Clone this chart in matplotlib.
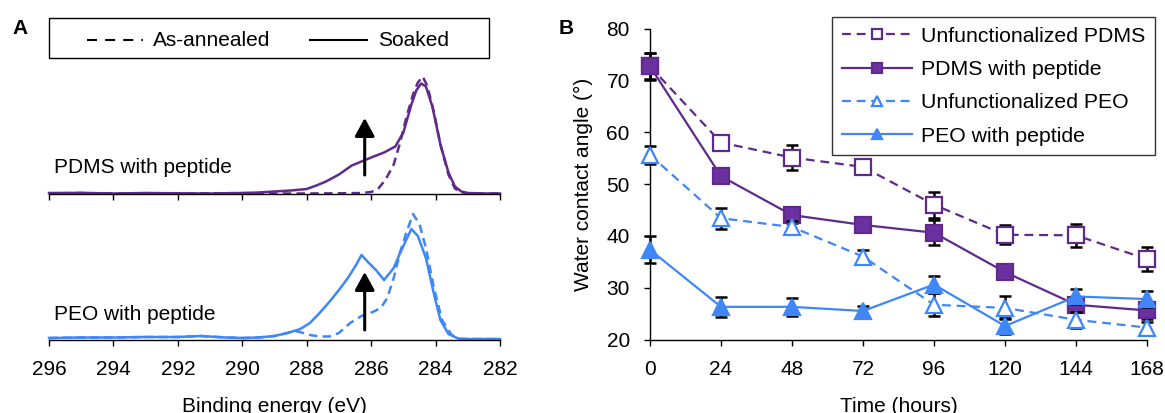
import matplotlib
matplotlib.use("Agg")
import matplotlib.pyplot as plt
from matplotlib.lines import Line2D
from matplotlib.patches import Rectangle

plt.rcParams['font.family'] = ['Liberation Sans', 'DejaVu Sans']
plt.rcParams['font.size'] = 15

# ---------------- Panel A: C 1s XPS spectra (relative intensity) ----------------
pdms_soaked_e = [296, 295, 294, 293, 292, 291, 290, 289.5, 289, 288.5, 288.0, 287.7,
                 287.4, 287.0, 286.6, 286.3, 286.0, 285.6, 285.25, 285.0, 284.75,
                 284.6, 284.45, 284.3, 284.1, 283.85, 283.6, 283.4, 283.2, 283.0,
                 282.5, 282.0]
pdms_soaked_i = [1.5, 1.6, 1.0, 1.5, 1.2, 1.0, 1.5, 2.0, 3.0, 4.0, 5.5, 9, 13, 20,
                 29, 33, 37, 42, 48, 62, 90, 104, 111, 108, 88, 50, 22, 8, 3, 1.5,
                 1.0, 1.0]

pdms_annealed_e = [296, 295, 294, 293, 292, 291, 290, 289, 288, 287, 286.3, 286.0,
                   285.8, 285.55, 285.3, 285.1, 284.9, 284.7, 284.55, 284.4, 284.25,
                   284.05, 283.85, 283.6, 283.4, 283.2, 283.0, 282.5, 282.0]
pdms_annealed_i = [1.2, 1.5, 1.0, 1.3, 1.0, 1.2, 1.4, 1.0, 1.0, 1.2, 1.5, 2.5,
                   5, 15, 30, 52, 78, 100, 112, 118, 108, 82, 50, 20, 6, 2, 1.2,
                   1.0, 1.0]

peo_soaked_e = [296, 295, 294, 293, 292, 291.3, 290.5, 290, 289.5, 289.0, 288.6,
                288.2, 287.9, 287.6, 287.3, 287.0, 286.7, 286.45, 286.3, 286.1,
                285.85, 285.6, 285.3, 285.1, 284.9, 284.75, 284.55, 284.3, 284.05,
                283.85, 283.6, 283.3, 283.0, 282.5, 282.0]
peo_soaked_i = [2.0, 2.5, 2.5, 3.0, 3.0, 4.0, 2.5, 2.0, 2.5, 4.0, 7, 11, 17, 27, 38,
                50, 63, 76, 85, 78, 70, 60, 72, 87, 101, 111, 104, 82, 46, 20, 6,
                1.5, 1.0, 1.0, 1.0]

peo_annealed_e = [296, 295, 294, 293, 292, 291.3, 290.5, 290, 289.5, 289.0, 288.6,
                  288.35, 288.1, 287.9, 287.6, 287.3, 287.0, 286.65, 286.3, 285.95,
                  285.7, 285.5, 285.3, 285.1, 284.9, 284.7, 284.5, 284.3, 284.05,
                  283.8, 283.5, 283.25, 283.0, 282.0]
peo_annealed_i = [2.0, 2.5, 2.5, 3.0, 3.0, 4.0, 2.5, 2.0, 2.5, 4.0, 7, 9, 7, 5, 3.5,
                  3.5, 7, 17, 24, 28, 32, 42, 62, 88, 108, 126, 116, 92, 52, 20, 5,
                  1.0, 1.0, 1.0]

energy_ticks = [296, 294, 292, 290, 288, 286, 284, 282]
arrow_energy = 286.2
pdms_arrow = (19.5, 76.5)
peo_arrow = (10, 68)

# ---------------- Panel B: water contact angle vs time ----------------
hours = [0, 24, 48, 72, 96, 120, 144, 168]
unf_pdms = [72.7, 58.0, 55.1, 53.3, 46.0, 40.2, 40.1, 35.5]
unf_pdms_err = [2.5, 1.2, 2.4, 1.0, 2.5, 1.8, 2.2, 2.3]
pdms_pep = [72.7, 51.5, 44.0, 42.1, 40.6, 33.0, 26.7, 25.6]
pdms_pep_err = [2.6, 1.0, 1.5, 1.2, 2.4, 1.0, 1.2, 1.6]
unf_peo = [55.6, 43.4, 41.7, 36.0, 26.7, 26.1, 23.8, 22.3]
unf_peo_err = [1.8, 2.0, 1.2, 1.3, 2.2, 2.2, 1.5, 1.0]
peo_pep = [37.3, 26.3, 26.3, 25.5, 30.6, 22.6, 28.3, 27.8]
peo_pep_err = [2.6, 1.9, 1.7, 1.0, 1.6, 1.5, 1.4, 1.6]
angle_ticks = [20, 30, 40, 50, 60, 70, 80]

PURPLE = '#5F2A8C'
PURPLE_FILL = '#6C31A0'
BLUE = '#3F86F7'

W, H = 1165, 413


def box(x0, y0, x1, y1):
    return [x0 / W, 1 - y1 / H, (x1 - x0) / W, (y1 - y0) / H]


fig = plt.figure(figsize=(W / 100, H / 100), dpi=100)

# --- Panel A axes ---
ax_top = fig.add_axes(box(49, 60, 500, 194.5))
ax_bot = fig.add_axes(box(49, 205, 500, 340))

for ax, ymax in ((ax_top, 134.5), (ax_bot, 135)):
    ax.set_xlim(296, 282)
    ax.set_ylim(0, ymax)
    for s in ('top', 'left', 'right'):
        ax.spines[s].set_visible(False)
    ax.spines['bottom'].set_linewidth(1.0)
    ax.set_yticks([])
    ax.set_xticks(energy_ticks)
    ax.tick_params(axis='x', direction='out', length=4.5, width=1.0, pad=10)
    ax.patch.set_alpha(0)

ax_top.tick_params(axis='x', labelbottom=False)

ax_top.plot(pdms_annealed_e, pdms_annealed_i, color=PURPLE, lw=1.8,
            linestyle=(0, (3.4, 2.1)), clip_on=False)
ax_top.plot(pdms_soaked_e, pdms_soaked_i, color=PURPLE, lw=1.8, clip_on=False)
ax_bot.plot(peo_annealed_e, peo_annealed_i, color=BLUE, lw=1.8,
            linestyle=(0, (3.4, 2.1)), clip_on=False)
ax_bot.plot(peo_soaked_e, peo_soaked_i, color=BLUE, lw=1.8, clip_on=False)

for ax, (y0, y1) in ((ax_top, pdms_arrow), (ax_bot, peo_arrow)):
    ax.annotate('', xy=(arrow_energy, y1), xytext=(arrow_energy, y0),
                arrowprops=dict(arrowstyle='-|>,head_length=0.55,head_width=0.3',
                                lw=2.2, color='black', mutation_scale=20,
                                shrinkA=0, shrinkB=0))

ax_top.text(0.012, 26.5 / 134.5, 'PDMS with peptide', transform=ax_top.transAxes,
            ha='left', va='center')
ax_bot.text(0.012, 25 / 135, 'PEO with peptide', transform=ax_bot.transAxes,
            ha='left', va='center')
ax_bot.set_xlabel('Binding energy (eV)', labelpad=13)

# legend box for panel A
fig.add_artist(Rectangle((49 / W, 1 - 58 / H), 440 / W, 40 / H, fill=False,
                         edgecolor='black', lw=1.0, transform=fig.transFigure))
fig.add_artist(Line2D([87 / W, 143 / W], [1 - 40 / H] * 2, color='black', lw=1.5,
                      linestyle=(0, (4.8, 3.9)), transform=fig.transFigure))
fig.text(153 / W, 1 - 40 / H, 'As-annealed', ha='left', va='center')
fig.add_artist(Line2D([310 / W, 367 / W], [1 - 40 / H] * 2, color='black', lw=1.5,
                      transform=fig.transFigure))
fig.text(378 / W, 1 - 40 / H, 'Soaked', ha='left', va='center')

fig.text(20 / W, 1 - 28.5 / H, 'A', ha='center', va='center', fontsize=15,
         fontweight='bold')
fig.text(566 / W, 1 - 28.5 / H, 'B', ha='center', va='center', fontsize=15,
         fontweight='bold')

# --- Panel B axes ---
axB = fig.add_axes(box(650, 28.5, 1147, 339.5))
axB.set_xlim(0, 168)
axB.set_ylim(20, 80)
axB.spines['top'].set_visible(False)
axB.spines['right'].set_visible(False)
for s in ('left', 'bottom'):
    axB.spines[s].set_linewidth(1.0)
axB.set_xticks(hours)
axB.set_yticks(angle_ticks)
axB.tick_params(direction='out', length=4.5, width=1.0, pad=10)
axB.set_xlabel('Time (hours)', labelpad=13)
axB.set_ylabel('Water contact angle (°)', labelpad=10)

series = [
    ('Unfunctionalized PDMS', unf_pdms, unf_pdms_err, PURPLE, 's', 'white', (0, (4, 2.6))),
    ('PDMS with peptide', pdms_pep, pdms_pep_err, PURPLE, 's', PURPLE_FILL, '-'),
    ('Unfunctionalized PEO', unf_peo, unf_peo_err, BLUE, '^', 'white', (0, (4, 2.6))),
    ('PEO with peptide', peo_pep, peo_pep_err, BLUE, '^', BLUE, '-'),
]

handles = []
for k, (label, vals, err, col, mk, face, ls) in enumerate(series):
    axB.errorbar(hours, vals, yerr=err, fmt='none', ecolor='black', elinewidth=1.8,
                 capsize=4.5, capthick=1.8, zorder=3 + 2 * k, clip_on=False)
    h, = axB.plot(hours, vals, color=col, lw=1.6, linestyle=ls, marker=mk,
                  markersize=11.8, markerfacecolor=face, markeredgecolor=col,
                  markeredgewidth=1.6, zorder=4 + 2 * k, clip_on=False, label=label)
    handles.append(h)

leg = axB.legend(handles=handles, loc='upper right',
                 bbox_to_anchor=(1155 / W, 1 - 17 / H), bbox_transform=fig.transFigure,
                 borderaxespad=0, frameon=True, fancybox=False, edgecolor='black',
                 handlelength=3.3, handletextpad=0.45, labelspacing=0.68,
                 borderpad=0.45, markerscale=0.65, fontsize=15.3)
leg.get_frame().set_linewidth(1.0)
leg.set_zorder(20)

fig.savefig('out.png', dpi=100)
